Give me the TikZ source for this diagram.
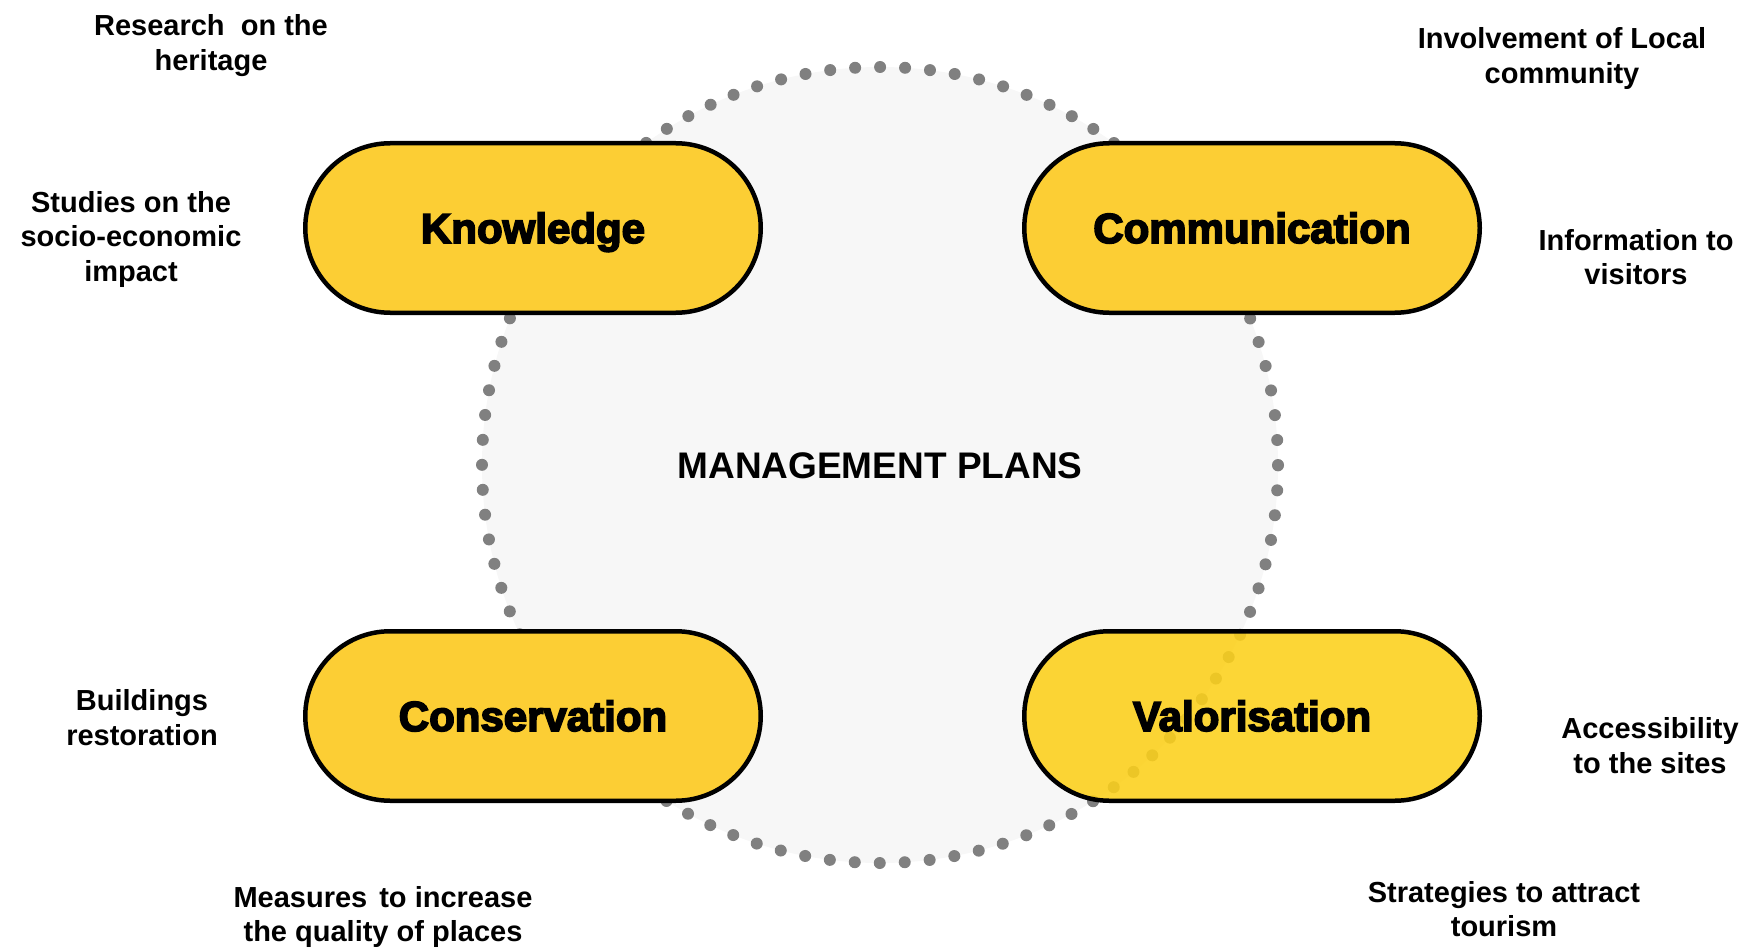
\documentclass[tikz,border=0pt]{standalone}
\usepackage{fontspec}
\setmainfont{Liberation Sans}
\newfontfamily\heavyfont{Liberation Sans}[BoldFeatures={FakeBold=4}]
\begin{document}
\definecolor{pillfill}{RGB}{252,206,52}
\definecolor{pillfillb}{RGB}{252,208,26}
\definecolor{plansbg}{RGB}{247,247,247}
\definecolor{dotgray}{RGB}{128,128,128}
\begin{tikzpicture}[x=1pt,y=-1pt,
  pill/.style={draw=black, line width=4.5pt, fill=pillfill, rounded corners=85pt,
    minimum width=455.5pt, minimum height=169.5pt, inner sep=0pt,
    font=\heavyfont\bfseries\fontsize{42}{46}\selectfont,
    text height=30pt, text depth=0pt},
  note/.style={font=\bfseries\fontsize{29}{34.5}\selectfont, align=center,
    anchor=base, inner sep=0pt},
  plans/.style={circle, fill=plansbg, draw=dotgray, line width=12pt, line cap=round,
    dash pattern=on 0pt off 25.007pt, minimum size=796pt, inner sep=0pt,
    font=\bfseries\fontsize{37}{40}\selectfont, text height=27pt, text depth=0pt}]
\useasboundingbox (0,0) rectangle (1758,952);

% central dotted disc
\node[plans] (mp) at (880,465) {MANAGEMENT PLANS};

% the four pillars
\node[pill] (know) at (533,228) {Knowledge};
\node[pill] (comm) at (1252,228) {Communication};
\node[pill] (cons) at (533,716) {Conservation};
\node[pill, fill=pillfillb, fill opacity=0.88, text opacity=1] (valo) at (1252,716) {Valorisation};

% surrounding notes (placed at the baseline of their last line)
\node[note] (n1) at (211,70.5) {Research~ on the\\heritage};
\node[note] (n2) at (131,281) {Studies on the\\socio-economic\\impact};
\node[note] (n3) at (1562,83.5) {Involvement of Local\\community};
\node[note] (n4) at (1636,284.5) {Information to\\visitors};
\node[note] (n5) at (142,745) {Buildings\\restoration};
\node[note] (n6) at (383,941.5) {Measures\hspace{4pt} to increase\\the quality of places};
\node[note] (n7) at (1504,936.5) {Strategies to attract\\tourism};
\node[note] (n8) at (1650,773) {Accessibility\\to the sites};
\end{tikzpicture}
\end{document}
